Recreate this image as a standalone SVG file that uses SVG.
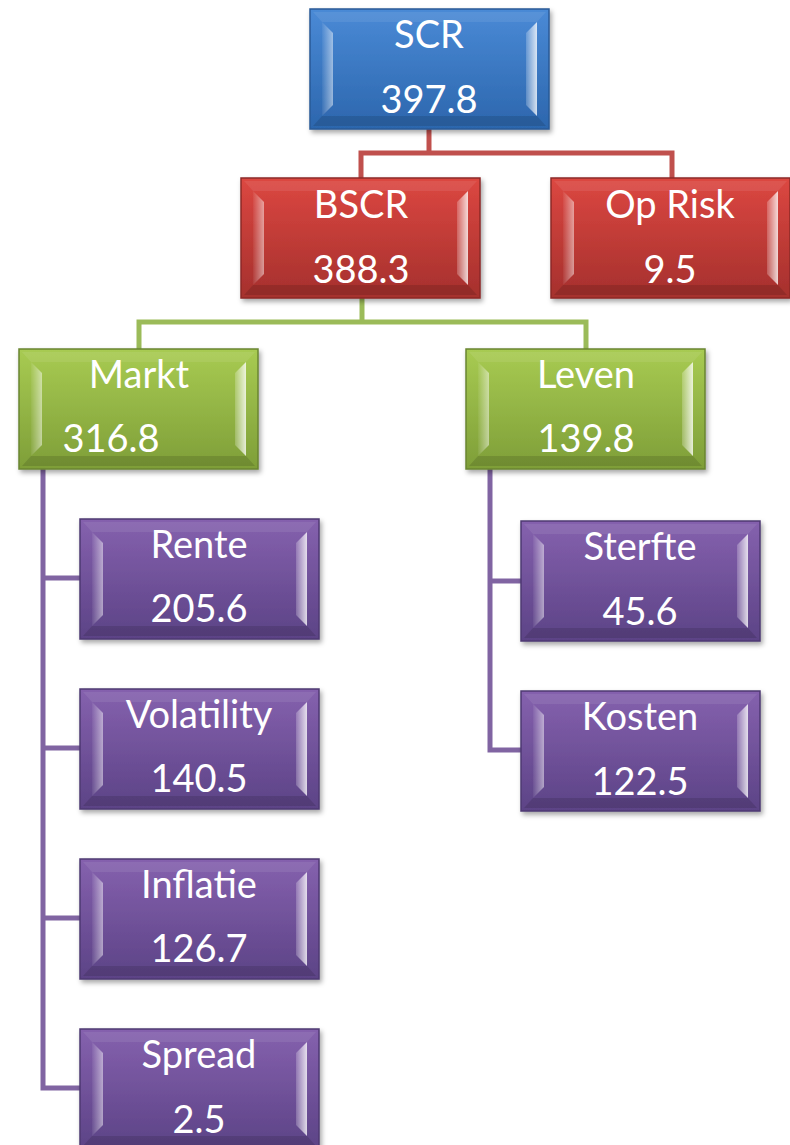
<svg xmlns="http://www.w3.org/2000/svg" width="790" height="1145" viewBox="0 0 790 1145">
<defs>
<linearGradient id="gBlue" x1="0" y1="0" x2="0" y2="1"><stop offset="0" stop-color="#4a8ad6"/><stop offset="1" stop-color="#2c66ad"/></linearGradient>
<linearGradient id="gRed" x1="0" y1="0" x2="0" y2="1"><stop offset="0" stop-color="#dc4741"/><stop offset="1" stop-color="#a5302d"/></linearGradient>
<linearGradient id="gGreen" x1="0" y1="0" x2="0" y2="1"><stop offset="0" stop-color="#a8cb52"/><stop offset="1" stop-color="#7e9e38"/></linearGradient>
<linearGradient id="gPurple" x1="0" y1="0" x2="0" y2="1"><stop offset="0" stop-color="#8561ae"/><stop offset="1" stop-color="#5c4386"/></linearGradient>
<linearGradient id="gLeft" x1="0" y1="0" x2="1" y2="0"><stop offset="0" stop-color="#fff" stop-opacity="0.05"/><stop offset="1" stop-color="#fff" stop-opacity="0.5"/></linearGradient>
<linearGradient id="gRight" x1="0" y1="0" x2="1" y2="0"><stop offset="0" stop-color="#fff" stop-opacity="0.2"/><stop offset="1" stop-color="#fff" stop-opacity="0.8"/></linearGradient>
<filter id="sh" x="-10%" y="-10%" width="125%" height="130%"><feDropShadow dx="2" dy="3" stdDeviation="2.5" flood-color="#000" flood-opacity="0.35"/></filter>
<g id="bevel">
<polygon points="12,13 23,24 23,96 12,107" fill="url(#gLeft)"/>
<polygon points="227,13 216,24 216,96 227,107" fill="url(#gRight)"/>
<polygon points="3,3 236,3 227,13 12,13" fill="#fff" fill-opacity="0.08"/>
<polygon points="3,117 236,117 227,107 12,107" fill="#000" fill-opacity="0.12"/>
</g>
</defs>
<style>
.box{stroke-width:1.5}
.blue{fill:url(#gBlue);stroke:#2a5a96}
.red{fill:url(#gRed);stroke:#8c2a27}
.green{fill:url(#gGreen);stroke:#6a8530}
.purple{fill:url(#gPurple);stroke:#4e3872}
text{font-family:Lato,"Open Sans","Liberation Sans",sans-serif;font-size:38px;fill:#fff;text-anchor:middle}
.c{fill:none;stroke-width:5}
.cr{stroke:#c0504d}
.cg{stroke:#9bbb59}
.cp{stroke:#8064a2}
</style>
<g id="connectors">
<polyline class="c cr" points="429,128 429,153"/>
<polyline class="c cr" points="361,178 361,153 672,153 672,178"/>
<polyline class="c cg" points="362,298 362,322"/>
<polyline class="c cg" points="139,349 139,322 586,322 586,349"/>
<polyline class="c cp" points="43,468 43,1088 80,1088"/>
<line class="c cp" x1="43" y1="578" x2="80" y2="578"/>
<line class="c cp" x1="43" y1="748" x2="80" y2="748"/>
<line class="c cp" x1="43" y1="918" x2="80" y2="918"/>
<polyline class="c cp" points="490,468 490,750 521,750"/>
<line class="c cp" x1="490" y1="581" x2="521" y2="581"/>
</g>
<g id="scr" transform="translate(310,9)"><rect class="box blue" width="239" height="120" filter="url(#sh)"/><use href="#bevel"/><text x="119" y="39">SCR</text><text x="119" y="104">397.8</text></g>
<g id="bscr" transform="translate(241,178)"><rect class="box red" width="239" height="120" filter="url(#sh)"/><use href="#bevel"/><text x="120" y="40">BSCR</text><text x="120" y="105">388.3</text></g>
<g id="oprisk" transform="translate(551,178)"><rect class="box red" width="239" height="120" filter="url(#sh)"/><use href="#bevel"/><text x="119" y="40">Op Risk</text><text x="119" y="105">9.5</text></g>
<g id="markt" transform="translate(19,349)"><rect class="box green" width="239" height="120" filter="url(#sh)"/><use href="#bevel"/><text x="120" y="39">Markt</text><text x="92" y="103">316.8</text></g>
<g id="leven" transform="translate(466,349)"><rect class="box green" width="239" height="120" filter="url(#sh)"/><use href="#bevel"/><text x="120" y="39">Leven</text><text x="120" y="103">139.8</text></g>
<g id="rente" transform="translate(80,519)"><rect class="box purple" width="239" height="120" filter="url(#sh)"/><use href="#bevel"/><text x="119" y="39">Rente</text><text x="119" y="103">205.6</text></g>
<g id="volatility" transform="translate(80,689)"><rect class="box purple" width="239" height="120" filter="url(#sh)"/><use href="#bevel"/><text x="119" y="39">Volatility</text><text x="119" y="103">140.5</text></g>
<g id="inflatie" transform="translate(80,859)"><rect class="box purple" width="239" height="120" filter="url(#sh)"/><use href="#bevel"/><text x="119" y="39">Inflatie</text><text x="119" y="103">126.7</text></g>
<g id="spread" transform="translate(80,1029)"><rect class="box purple" width="239" height="120" filter="url(#sh)"/><use href="#bevel"/><text x="119" y="39">Spread</text><text x="119" y="104">2.5</text></g>
<g id="sterfte" transform="translate(521,521)"><rect class="box purple" width="239" height="120" filter="url(#sh)"/><use href="#bevel"/><text x="119" y="39">Sterfte</text><text x="119" y="104">45.6</text></g>
<g id="kosten" transform="translate(521,691)"><rect class="box purple" width="239" height="120" filter="url(#sh)"/><use href="#bevel"/><text x="119" y="39">Kosten</text><text x="119" y="104">122.5</text></g>
</svg>
